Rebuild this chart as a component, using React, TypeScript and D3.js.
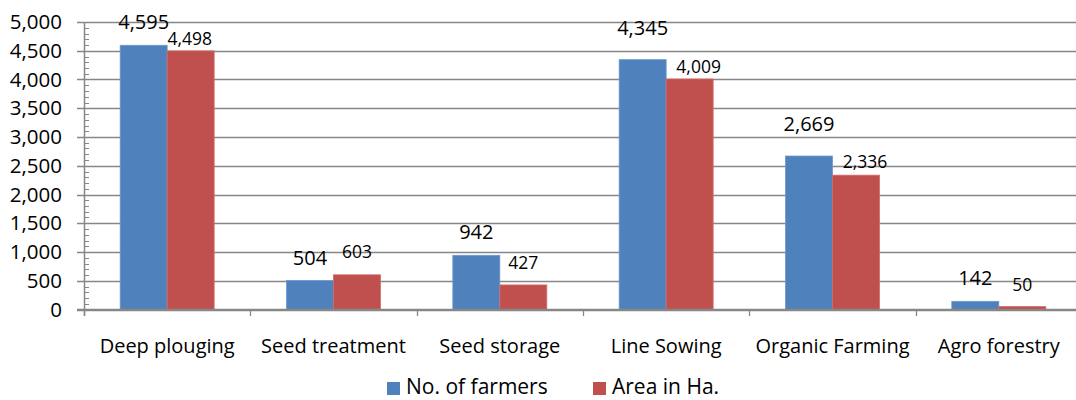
import React from "react";
import * as d3 from "d3";

const categories = ["Deep plouging", "Seed treatment", "Seed storage", "Line Sowing", "Organic Farming", "Agro forestry"];
const seriesNames = ["No. of farmers", "Area in Ha."];
const farmers = [4595, 504, 942, 4345, 2669, 142];
const area = [4498, 603, 427, 4009, 2336, 50];
const yTicks = [0, 500, 1000, 1500, 2000, 2500, 3000, 3500, 4000, 4500, 5000];

// label placement tweaks (px) as in the reference
const farmerLabelGap = [16, 15.5, 16, 25, 25, 16];
const areaLabelGap = [6, 17, 16, 6, 7, 16];
const areaLabelShift = [-1, 0, 0, 9, 9, 0];

const W = 1076;
const H = 400;
const left = 84;
const catW = 166.33;
const top = 22;
const bottom = 309.5;
const colors = ["#4F81BD", "#C0504D"];
const strokes = ["#6C97CC", "#D46A67"];
const grid = "#878787";
const font = "'Open Sans', sans-serif";

export default function App() {
  const x0 = d3.scaleBand<string>().domain(categories).range([left, left + catW * categories.length]).paddingInner(0).paddingOuter(0);
  const x1 = d3.scaleBand<string>().domain(seriesNames).range([0, x0.bandwidth()]).paddingInner(0).paddingOuter(0.77);
  const y = d3.scaleLinear().domain([0, 5000]).range([bottom, top]);
  const fmt = d3.format(",");
  const minor = d3.range(0, 5001, 100).filter((v) => v % 500 !== 0);
  const values = [farmers, area];
  const boundaries = d3.range(0, categories.length + 1).map((i) => left + i * x0.step());

  return (
    <svg width={W} height={H} style={{ position: "fixed", left: 0, top: 0, background: "#fff" }} fontFamily={font}>
      <rect x={0} y={0} width={W} height={H} fill="#fff" />
      {yTicks.map((t) => (
        <line key={"g" + t} x1={77} x2={W} y1={Math.round(y(t)) + 0.5} y2={Math.round(y(t)) + 0.5} stroke={grid} strokeWidth={1.3} />
      ))}
      {minor.map((t) => (
        <line key={"m" + t} x1={left} x2={left + 5} y1={Math.round(y(t)) + 0.5} y2={Math.round(y(t)) + 0.5} stroke={grid} strokeWidth={1} />
      ))}
      {yTicks.map((t) => (
        <text key={"t" + t} x={62} y={y(t)} dy="0.35em" textAnchor="end" fontSize={20.5} fill="#000">
          {fmt(t)}
        </text>
      ))}
      {boundaries.map((b, i) => (
        <line key={"b" + i} x1={Math.round(b) + 0.5} x2={Math.round(b) + 0.5} y1={bottom} y2={316} stroke={grid} strokeWidth={1.3} />
      ))}
      {values.map((vals, s) =>
        vals.map((v, i) => {
          const bx = (x0(categories[i]) as number) + (x1(seriesNames[s]) as number);
          return (
            <rect
              key={"r" + s + "-" + i}
              x={bx}
              y={y(v)}
              width={x1.bandwidth()}
              height={bottom - y(v)}
              fill={colors[s]}
              stroke={strokes[s]}
              strokeWidth={0.8}
            />
          );
        })
      )}
      <line x1={left + 0.5} x2={left + 0.5} y1={top} y2={316} stroke={grid} strokeWidth={1.5} />
      <line x1={77} x2={W} y1={bottom} y2={bottom} stroke={grid} strokeWidth={1.5} />
      {farmers.map((v, i) => {
        const cx = (x0(categories[i]) as number) + (x1(seriesNames[0]) as number) + x1.bandwidth() / 2;
        return (
          <text key={"lf" + i} x={cx} y={y(v) - farmerLabelGap[i]} textAnchor="middle" fontSize={20} fill="#000">
            {fmt(v)}
          </text>
        );
      })}
      {area.map((v, i) => {
        const cx = (x0(categories[i]) as number) + (x1(seriesNames[1]) as number) + x1.bandwidth() / 2 + areaLabelShift[i];
        return (
          <text key={"la" + i} x={cx} y={y(v) - areaLabelGap[i]} textAnchor="middle" fontSize={17.5} fill="#000">
            {fmt(v)}
          </text>
        );
      })}
      {categories.map((c) => (
        <text key={"c" + c} x={(x0(c) as number) + x0.bandwidth() / 2} y={353} textAnchor="middle" fontSize={20} fill="#000">
          {c}
        </text>
      ))}
      {seriesNames.map((n, s) => {
        const lx = s === 0 ? 387 : 593;
        return (
          <g key={"lg" + n}>
            <rect x={lx} y={382} width={13} height={13} fill={colors[s]} />
            <text x={lx + 19} y={394} fontSize={21} fill="#000">
              {n}
            </text>
          </g>
        );
      })}
    </svg>
  );
}
